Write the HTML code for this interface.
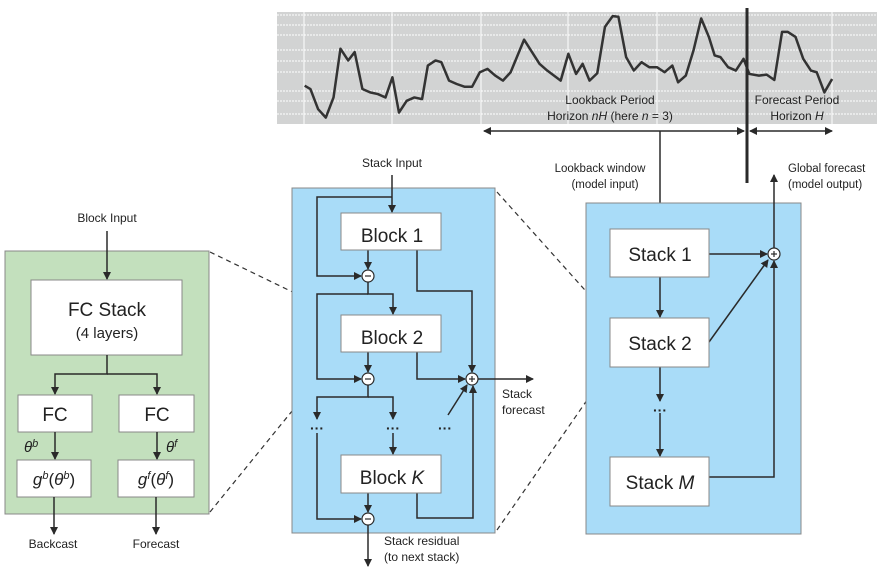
<!DOCTYPE html>
<html><head><meta charset="utf-8"><style>
html,body{margin:0;padding:0;background:#fff}
svg{display:block}
text{font-family:"Liberation Sans",sans-serif;fill:#222}
</style></head><body>
<svg width="877" height="572" viewBox="0 0 877 572" xmlns="http://www.w3.org/2000/svg">
<defs>
<marker id="a" markerWidth="8" markerHeight="8" refX="7" refY="4" orient="auto" markerUnits="userSpaceOnUse"><path d="M0,0 L8,4 L0,8 z" fill="#2a2a2a"/></marker>
<marker id="as" markerWidth="8" markerHeight="8" refX="1" refY="4" orient="auto" markerUnits="userSpaceOnUse"><path d="M8,0 L0,4 L8,8 z" fill="#2a2a2a"/></marker>
</defs>
<!-- chart -->
<rect x="277" y="12" width="600" height="112" fill="#d2d3d3"/>
<g stroke="#fff" stroke-width="1" stroke-dasharray="2,1">
<line x1="277" y1="15" x2="877" y2="15"/><line x1="277" y1="25" x2="877" y2="25"/><line x1="277" y1="35" x2="877" y2="35"/><line x1="277" y1="50" x2="877" y2="50"/><line x1="277" y1="61" x2="877" y2="61"/><line x1="277" y1="72" x2="877" y2="72"/><line x1="277" y1="91" x2="877" y2="91"/><line x1="277" y1="101" x2="877" y2="101"/><line x1="277" y1="114" x2="877" y2="114"/>
</g>
<g stroke="#fff" stroke-width="1">
<line x1="304" y1="12" x2="304" y2="124"/><line x1="392" y1="12" x2="392" y2="124"/><line x1="481" y1="12" x2="481" y2="124"/><line x1="568" y1="12" x2="568" y2="124"/><line x1="657" y1="12" x2="657" y2="124"/><line x1="832" y1="12" x2="832" y2="124"/>
</g>
<g transform="translate(270,0) scale(0.385,0.336)">
<polyline fill="none" stroke="#333" stroke-width="2.5" vector-effect="non-scaling-stroke" stroke-linejoin="round" points="90,255 105,265 125,325 145,350 165,290 183,145 203,180 220,155 240,265 260,275 280,280 300,290 318,230 335,335 355,300 375,290 395,295 410,195 430,180 445,185 465,240 485,250 505,258 525,258 545,215 565,205 585,225 605,240 625,215 660,118 700,190 720,210 755,240 775,160 795,220 812,190 830,240 850,218 870,80 890,48 905,50 925,170 945,210 965,185 985,200 1005,200 1025,215 1045,195 1060,245 1080,225 1100,150 1120,55 1140,110 1155,165 1170,170 1190,200 1210,210 1230,175 1245,220 1270,225 1290,222 1310,238 1330,95 1345,95 1365,110 1385,175 1405,210 1420,215 1440,275 1460,235"/>
</g>
<text x="610" y="104" font-size="12" text-anchor="middle">Lookback Period</text>
<text x="610" y="120" font-size="12" text-anchor="middle">Horizon <tspan font-style="italic">nH</tspan> (here <tspan font-style="italic">n</tspan> = 3)</text>
<text x="797" y="104" font-size="12" text-anchor="middle">Forecast Period</text>
<text x="797" y="120" font-size="12" text-anchor="middle">Horizon <tspan font-style="italic">H</tspan></text>
<line x1="747" y1="8" x2="747" y2="183" stroke="#2a2a2a" stroke-width="3"/>
<line x1="484" y1="131" x2="744" y2="131" stroke="#2a2a2a" stroke-width="1.5" marker-start="url(#as)" marker-end="url(#a)"/>
<line x1="750" y1="131" x2="832" y2="131" stroke="#2a2a2a" stroke-width="1.5" marker-start="url(#as)" marker-end="url(#a)"/>
<line x1="660" y1="131" x2="660" y2="228" stroke="#2a2a2a" stroke-width="1.5" marker-end="url(#a)"/>
<text x="600" y="172" font-size="11.5" text-anchor="middle">Lookback window</text>
<text x="605" y="188" font-size="11.5" text-anchor="middle">(model input)</text>
<text x="788" y="172" font-size="11.5">Global forecast</text>
<text x="788" y="188" font-size="11.5">(model output)</text>

<!-- dashed zoom lines -->
<g stroke="#333" stroke-width="1.2" stroke-dasharray="5,4" fill="none">
<line x1="210" y1="252" x2="340" y2="315"/><line x1="210" y1="512" x2="340" y2="352"/>
<line x1="497" y1="192" x2="610" y2="318"/><line x1="497" y1="530" x2="610" y2="367"/>
</g>

<!-- green block -->
<rect x="5" y="251" width="204" height="263" fill="#c3e0bd" stroke="#888" stroke-width="1"/>
<text x="107" y="222" font-size="12" text-anchor="middle">Block Input</text>
<line x1="107" y1="231" x2="107" y2="279" stroke="#2a2a2a" stroke-width="1.5" marker-end="url(#a)"/>
<rect x="31" y="280" width="151" height="75" fill="#fff" stroke="#888"/>
<text x="107" y="316" font-size="19" text-anchor="middle">FC Stack</text>
<text x="107" y="338" font-size="15" text-anchor="middle">(4 layers)</text>
<polyline points="107,355 107,374 55,374 55,394" fill="none" stroke="#2a2a2a" stroke-width="1.5" marker-end="url(#a)"/>
<polyline points="107,374 157,374 157,394" fill="none" stroke="#2a2a2a" stroke-width="1.5" marker-end="url(#a)"/>
<rect x="18" y="395" width="74" height="37" fill="#fff" stroke="#888"/>
<rect x="119" y="395" width="75" height="37" fill="#fff" stroke="#888"/>
<text x="55" y="421" font-size="19" text-anchor="middle">FC</text>
<text x="157" y="421" font-size="19" text-anchor="middle">FC</text>
<line x1="55" y1="432" x2="55" y2="459" stroke="#2a2a2a" stroke-width="1.5" marker-end="url(#a)"/>
<line x1="157" y1="432" x2="157" y2="459" stroke="#2a2a2a" stroke-width="1.5" marker-end="url(#a)"/>
<text x="24" y="452" font-size="15" font-family="Liberation Serif" font-style="italic">θ<tspan font-size="11" dy="-5">b</tspan></text>
<text x="166" y="452" font-size="15" font-family="Liberation Serif" font-style="italic">θ<tspan font-size="11" dy="-5">f</tspan></text>
<rect x="17" y="460" width="74" height="37" fill="#fff" stroke="#888"/>
<rect x="118" y="460" width="76" height="37" fill="#fff" stroke="#888"/>
<text x="54" y="485" font-size="17" text-anchor="middle" font-family="Liberation Serif" font-style="italic">g<tspan font-size="11" dy="-6">b</tspan><tspan dy="6" font-style="normal">(</tspan>θ<tspan font-size="11" dy="-6">b</tspan><tspan dy="6" font-style="normal">)</tspan></text>
<text x="156" y="485" font-size="17" text-anchor="middle" font-family="Liberation Serif" font-style="italic">g<tspan font-size="11" dy="-6">f</tspan><tspan dy="6" font-style="normal">(</tspan>θ<tspan font-size="11" dy="-6">f</tspan><tspan dy="6" font-style="normal">)</tspan></text>
<line x1="54" y1="497" x2="54" y2="534" stroke="#2a2a2a" stroke-width="1.5" marker-end="url(#a)"/>
<line x1="156" y1="497" x2="156" y2="534" stroke="#2a2a2a" stroke-width="1.5" marker-end="url(#a)"/>
<text x="53" y="548" font-size="12" text-anchor="middle">Backcast</text>
<text x="156" y="548" font-size="12" text-anchor="middle">Forecast</text>

<!-- middle blue stack -->
<rect x="292" y="188" width="203" height="345" fill="#a9dcf8" stroke="#888"/>
<text x="392" y="167" font-size="12" text-anchor="middle">Stack Input</text>
<g stroke="#2a2a2a" stroke-width="1.5" fill="none">
<line x1="392" y1="175" x2="392" y2="212" marker-end="url(#a)"/>
<polyline points="392,197 317,197 317,276 361,276" marker-end="url(#a)"/>
<line x1="368" y1="250" x2="368" y2="269" marker-end="url(#a)"/>
<polyline points="368,282 368,294 393,294 393,314" marker-end="url(#a)"/>
<polyline points="368,294 317,294 317,379 361,379" marker-end="url(#a)"/>
<line x1="368" y1="352" x2="368" y2="372" marker-end="url(#a)"/>
<polyline points="417,250 417,291 472,291 472,372" marker-end="url(#a)"/>
<polyline points="417,352 417,379 465,379" marker-end="url(#a)"/>
<line x1="478" y1="379" x2="533" y2="379" marker-end="url(#a)"/>
<polyline points="368,385 368,397 317,397 317,419" marker-end="url(#a)"/>
<polyline points="368,397 393,397 393,419" marker-end="url(#a)"/>
<line x1="393" y1="433" x2="393" y2="454" marker-end="url(#a)"/>
<line x1="448" y1="415" x2="467" y2="385" marker-end="url(#a)"/>
<polyline points="317,433 317,519 361,519" marker-end="url(#a)"/>
<line x1="368" y1="493" x2="368" y2="512" marker-end="url(#a)"/>
<polyline points="417,493 417,518 473,518 473,386" marker-end="url(#a)"/>
<line x1="368" y1="525" x2="368" y2="566" marker-end="url(#a)"/>
</g>
<rect x="341" y="213" width="100" height="37" fill="#fff" stroke="#888"/>
<rect x="341" y="315" width="100" height="37" fill="#fff" stroke="#888"/>
<rect x="341" y="455" width="100" height="38" fill="#fff" stroke="#888"/>
<text x="392" y="242" font-size="19" text-anchor="middle">Block 1</text>
<text x="392" y="344" font-size="19" text-anchor="middle">Block 2</text>
<text x="392" y="484" font-size="19" text-anchor="middle">Block <tspan font-style="italic">K</tspan></text>
<g font-size="14" font-weight="bold" text-anchor="middle"><text x="317" y="433">···</text><text x="393" y="433">···</text><text x="445" y="433">···</text></g>
<g fill="#fff" stroke="#2a2a2a" stroke-width="1.2">
<circle cx="368" cy="276" r="6"/><circle cx="368" cy="379" r="6"/><circle cx="368" cy="519" r="6"/><circle cx="472" cy="379" r="6"/>
</g>
<g stroke="#2a2a2a" stroke-width="1.2">
<line x1="365" y1="276" x2="371" y2="276"/><line x1="365" y1="379" x2="371" y2="379"/><line x1="365" y1="519" x2="371" y2="519"/>
<line x1="469" y1="379" x2="475" y2="379"/><line x1="472" y1="376" x2="472" y2="382"/>
</g>
<text x="502" y="398" font-size="12">Stack</text>
<text x="502" y="414" font-size="12">forecast</text>
<text x="384" y="545" font-size="12">Stack residual</text>
<text x="384" y="561" font-size="12">(to next stack)</text>

<!-- right blue -->
<rect x="586" y="203" width="215" height="331" fill="#a9dcf8" stroke="#888"/>
<g stroke="#2a2a2a" stroke-width="1.5" fill="none">
<line x1="660" y1="277" x2="660" y2="317" marker-end="url(#a)"/>
<line x1="660" y1="367" x2="660" y2="401" marker-end="url(#a)"/>
<line x1="660" y1="413" x2="660" y2="456" marker-end="url(#a)"/>
<line x1="709" y1="254" x2="767" y2="254" marker-end="url(#a)"/>
<line x1="709" y1="342" x2="768" y2="260" marker-end="url(#a)"/>
<polyline points="709,477 774,477 774,261" marker-end="url(#a)"/>
<line x1="774" y1="248" x2="774" y2="175" marker-end="url(#a)"/>
</g>
<text x="660" y="415" font-size="14" font-weight="bold" text-anchor="middle">···</text>
<rect x="610" y="229" width="99" height="48" fill="#fff" stroke="#888"/>
<rect x="610" y="318" width="99" height="49" fill="#fff" stroke="#888"/>
<rect x="610" y="457" width="99" height="49" fill="#fff" stroke="#888"/>
<text x="660" y="261" font-size="19" text-anchor="middle">Stack 1</text>
<text x="660" y="350" font-size="19" text-anchor="middle">Stack 2</text>
<text x="660" y="489" font-size="19" text-anchor="middle">Stack <tspan font-style="italic">M</tspan></text>
<circle cx="774" cy="254" r="6" fill="#fff" stroke="#2a2a2a" stroke-width="1.2"/>
<line x1="771" y1="254" x2="777" y2="254" stroke="#2a2a2a" stroke-width="1.2"/><line x1="774" y1="251" x2="774" y2="257" stroke="#2a2a2a" stroke-width="1.2"/>
</svg>
</body></html>
